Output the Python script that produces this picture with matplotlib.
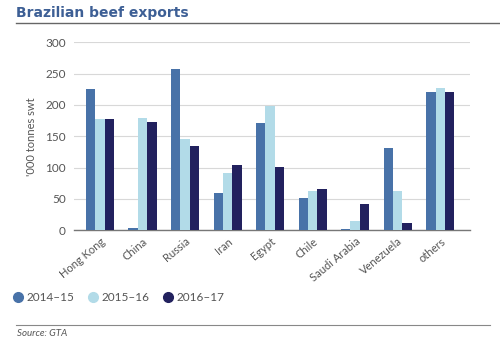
import numpy as np
import matplotlib
matplotlib.use("Agg")
import matplotlib.pyplot as plt
from matplotlib.lines import Line2D

plt.rcParams['font.family'] = ['Lato', 'DejaVu Sans']

countries = ["Hong Kong", "China", "Russia", "Iran", "Egypt", "Chile",
             "Saudi Arabia", "Venezuela", "others"]
seasons = ["2014\u201315", "2015\u201316", "2016\u201317"]
exports_2014_15 = [226, 4, 257, 60, 172, 52, 1, 132, 220]
exports_2015_16 = [178, 180, 146, 92, 199, 62, 15, 62, 227]
exports_2016_17 = [178, 173, 135, 104, 101, 65, 42, 12, 220]
yticks = [0, 50, 100, 150, 200, 250, 300]

colors = ["#4872a8", "#b2dbe8", "#22215e"]
text_grey = "#555555"

fig = plt.figure(figsize=(5.0, 3.45), dpi=100)
ax = fig.add_axes([0.148, 0.333, 0.792, 0.544])

x = np.arange(len(countries))
w = 0.22
series = [exports_2014_15, exports_2015_16, exports_2016_17]
for i, vals in enumerate(series):
    ax.bar(x + (i - 1) * w, vals, width=w, color=colors[i], zorder=3)

ax.set_xlim(-0.61, len(countries) - 1 + 0.7)
ax.set_ylim(0, 300)
ax.set_yticks(yticks)
ax.set_yticklabels([str(v) for v in yticks], fontsize=8.5, color=text_grey)
ax.yaxis.grid(True, color="#d8d8d8", linewidth=0.8, zorder=0)
ax.tick_params(axis="y", length=0, pad=6)
ax.set_xticks(x)
ax.set_xticklabels(countries, rotation=40, ha="right", rotation_mode="anchor",
                   fontsize=8, color=text_grey)
ax.tick_params(axis="x", length=0, pad=4)
for side in ["top", "right", "left"]:
    ax.spines[side].set_visible(False)
ax.spines["bottom"].set_color("#777777")
ax.spines["bottom"].set_linewidth(1.0)
ax.set_ylabel("'000 tonnes swt", fontsize=8, color=text_grey, labelpad=6)

# title and rule
fig.text(0.032, 0.962, "Brazilian beef exports", fontsize=10, fontweight="bold",
         family="DejaVu Sans", color="#3d5f95", va="center")
fig.add_artist(Line2D([0.032, 1.0], [0.933, 0.933], color="#666666", linewidth=1.0))

# legend
handles = [Line2D([], [], marker="o", linestyle="", markersize=7,
                  markerfacecolor=c, markeredgecolor=c) for c in colors]
fig.legend(handles, seasons, loc="center left", bbox_to_anchor=(-0.002, 0.137),
           ncol=3, frameon=False, fontsize=8.5, handletextpad=0.0,
           handlelength=1.4, columnspacing=0.9, labelcolor=text_grey)

# source note
fig.add_artist(Line2D([0.032, 0.98], [0.058, 0.058], color="#888888", linewidth=0.8))
fig.text(0.034, 0.034, "Source: GTA", fontsize=7, style="italic",
         color=text_grey, va="center")

fig.savefig("out.png", dpi=100)
